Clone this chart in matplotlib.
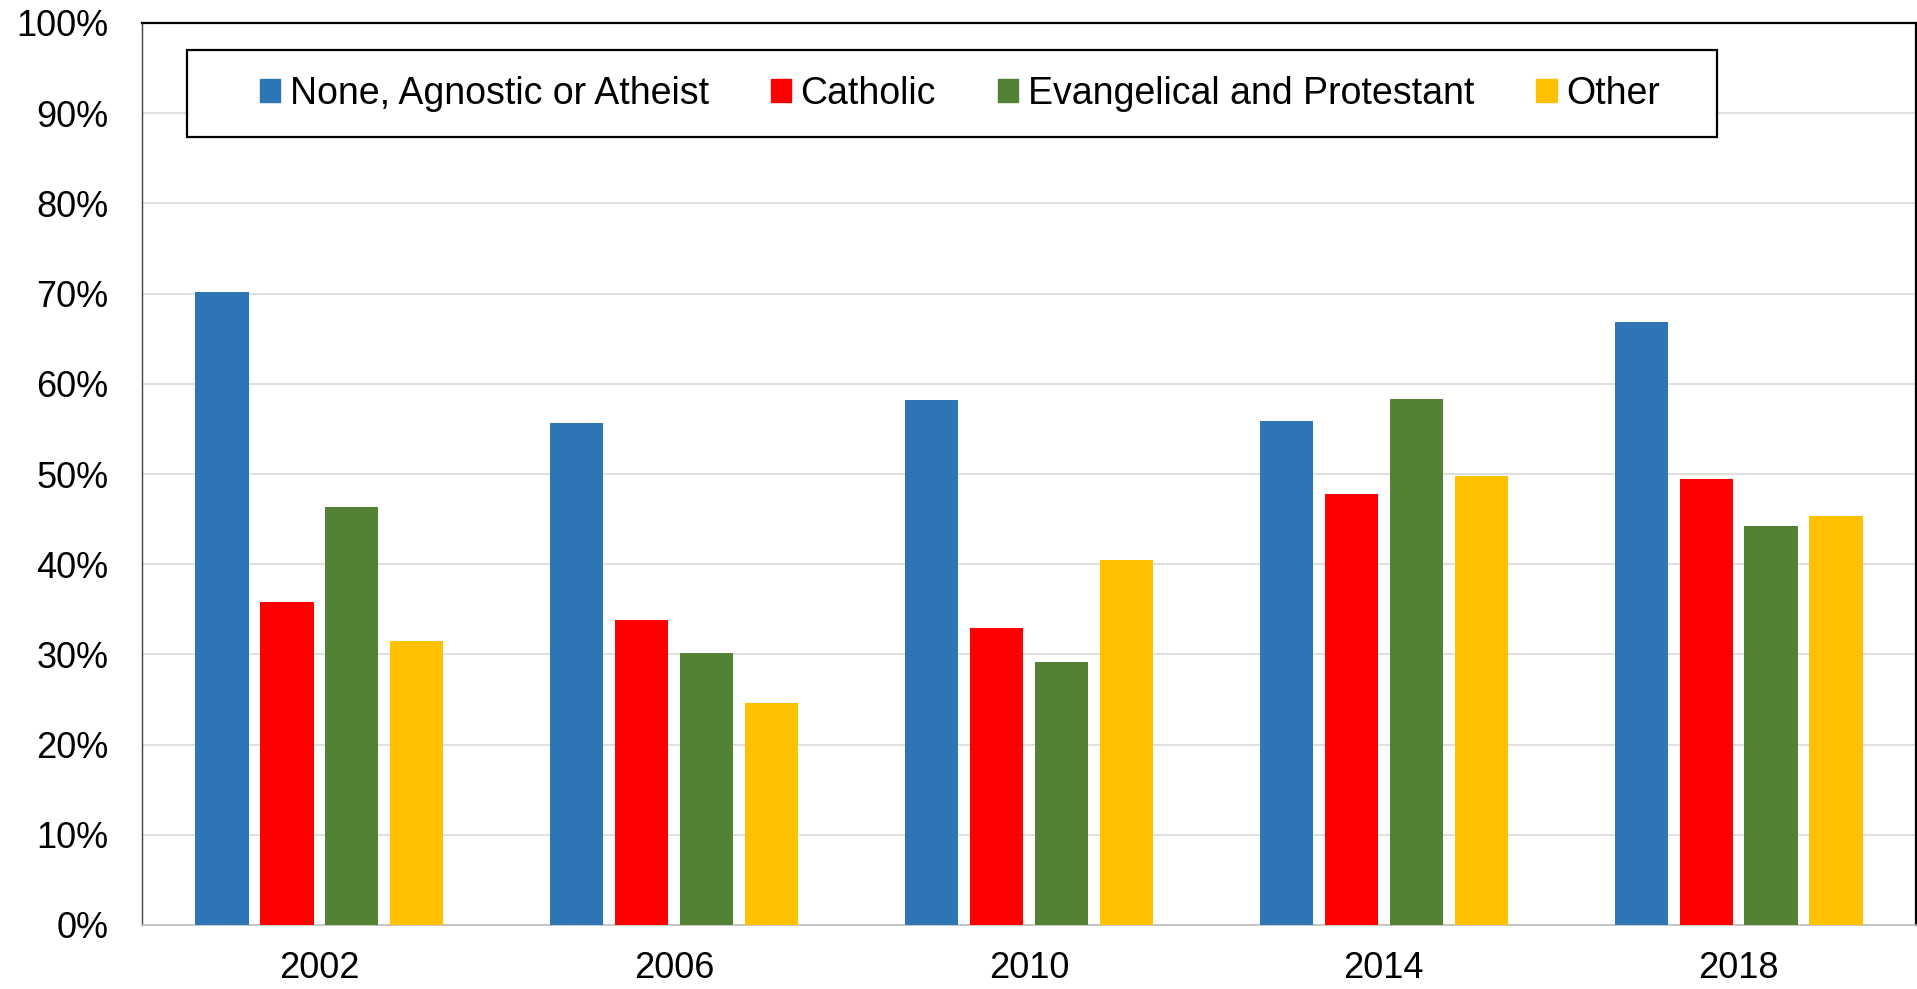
import numpy as np
import matplotlib
matplotlib.use("Agg")
import matplotlib.pyplot as plt
from matplotlib.patches import Patch, Rectangle
from matplotlib.ticker import PercentFormatter

years = ["2002", "2006", "2010", "2014", "2018"]
series = ["None, Agnostic or Atheist", "Catholic", "Evangelical and Protestant", "Other"]
none_vals = [70.2, 55.7, 58.2, 55.9, 66.9]
catholic_vals = [35.8, 33.8, 32.9, 47.8, 49.5]
evangelical_vals = [46.3, 30.1, 29.2, 58.3, 44.2]
other_vals = [31.5, 24.6, 40.5, 49.8, 45.3]
colors = ["#2E75B6", "#FF0000", "#548235", "#FFC000"]

plt.rcParams['font.family'] = ['Liberation Sans', 'DejaVu Sans']

W, H = 1917, 989
fig = plt.figure(figsize=(W / 100, H / 100), dpi=100)
ax = fig.add_axes([142 / W, 1 - 925 / H, (1916 - 142) / W, (925 - 23) / H])

x = np.arange(len(years))
slot = 0.183
width = 0.15
data = [none_vals, catholic_vals, evangelical_vals, other_vals]
for k, vals in enumerate(data):
    ax.bar(x + (k - 1.5) * slot, vals, width, color=colors[k], zorder=3)

ax.set_xlim(-0.5, len(years) - 0.5)
ax.set_ylim(0, 100)
ax.set_yticks(np.arange(0, 101, 10))
ax.yaxis.set_major_formatter(PercentFormatter(decimals=0))
ax.set_xticks(x)
ax.set_xticklabels(years)
ax.tick_params(axis='both', length=0, labelsize=26, colors='black')
ax.tick_params(axis='y', pad=24)
ax.tick_params(axis='x', pad=19)
ax.grid(axis='y', color='#D9D9D9', linewidth=1.2, zorder=0)

ax.spines['top'].set_color('black')
ax.spines['top'].set_linewidth(1.6)
ax.spines['right'].set_color('black')
ax.spines['right'].set_linewidth(1.6)
ax.spines['left'].set_color('#404040')
ax.spines['left'].set_linewidth(1.0)
ax.spines['bottom'].set_color('#BFBFBF')
ax.spines['bottom'].set_linewidth(1.2)

# legend box drawn by hand, entries centred inside it
fig.patches.append(Rectangle((187 / W, 1 - 137 / H), (1717 - 187) / W, (137 - 50) / H,
                             transform=fig.transFigure, fill=True, facecolor='white',
                             edgecolor='black', linewidth=1.6, zorder=5))
handles = [Patch(color=c) for c in colors]
leg = fig.legend(handles, series, loc='center', bbox_to_anchor=((187 + 1717) / 2 / W + 0.004, 1 - 93.5 / H),
                 ncol=4, frameon=False, fontsize=27, handlelength=0.55, handleheight=0.55,
                 handletextpad=0.25, columnspacing=1.65)
leg.set_zorder(6)

fig.savefig("out.png", dpi=100)
